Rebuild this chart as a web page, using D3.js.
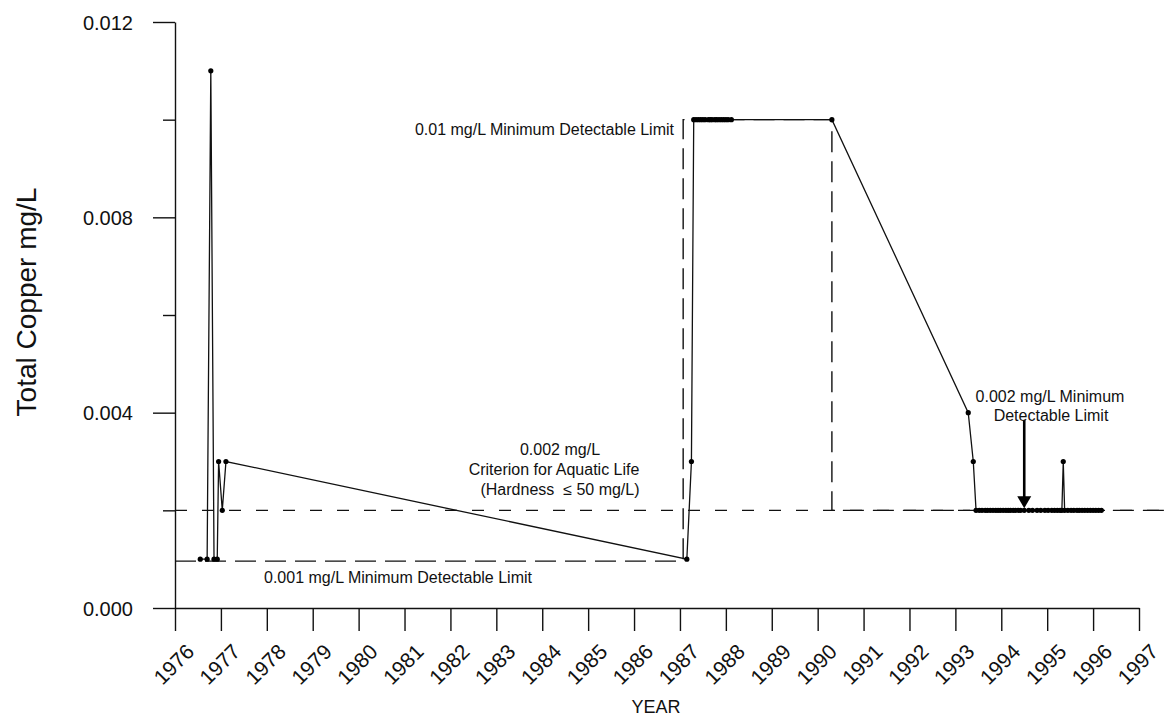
<!DOCTYPE html>
<html>
<head>
<meta charset="utf-8">
<script src="https://cdn.jsdelivr.net/npm/d3@7"></script>
<style>
  body { margin: 0; background: #fff; }
  svg text { font-family: "Liberation Sans", Arial, sans-serif; fill: #111; }
</style>
</head>
<body>
<svg id="chart" width="1171" height="721"></svg>
<script>
// sample dates (decimal year) and total copper, mg/L
const sampleYears = [
  1976.55, 1976.70, 1976.78, 1976.85, 1976.92, 1976.95, 1977.03, 1977.11,
  1987.15, 1987.25, 1987.30, 1987.35, 1987.40, 1987.45, 1987.50, 1987.55,
  1987.62, 1987.66, 1987.70, 1987.76, 1987.80, 1987.85, 1987.90, 1987.95,
  1988.00, 1988.05, 1988.12, 1990.31, 1993.28, 1993.39, 1993.45, 1993.52,
  1993.58, 1993.65, 1993.70, 1993.76, 1993.82, 1993.88, 1993.93, 1993.98,
  1994.04, 1994.10, 1994.15, 1994.20, 1994.26, 1994.31, 1994.37, 1994.42,
  1994.50, 1994.60, 1994.68, 1994.78, 1994.86, 1994.95, 1995.02, 1995.10,
  1995.16, 1995.22, 1995.28, 1995.32, 1995.35, 1995.38, 1995.45, 1995.52,
  1995.58, 1995.65, 1995.70, 1995.76, 1995.82, 1995.88, 1995.94, 1996.00,
  1996.06, 1996.12, 1996.18
];
const copperValues = [
  0.001, 0.001, 0.011, 0.001, 0.001, 0.003, 0.002, 0.003,
  0.001, 0.003, 0.010, 0.010, 0.010, 0.010, 0.010, 0.010,
  0.010, 0.010, 0.010, 0.010, 0.010, 0.010, 0.010, 0.010,
  0.010, 0.010, 0.010, 0.010, 0.004, 0.003, 0.002, 0.002,
  0.002, 0.002, 0.002, 0.002, 0.002, 0.002, 0.002, 0.002,
  0.002, 0.002, 0.002, 0.002, 0.002, 0.002, 0.002, 0.002,
  0.002, 0.002, 0.002, 0.002, 0.002, 0.002, 0.002, 0.002,
  0.002, 0.002, 0.002, 0.002, 0.003, 0.002, 0.002, 0.002,
  0.002, 0.002, 0.002, 0.002, 0.002, 0.002, 0.002, 0.002,
  0.002, 0.002, 0.002
];

const yearTicks = d3.range(1976, 1998);
const majorTicks = [0, 0.004, 0.008, 0.012];
const minorTicks = [0.002, 0.006, 0.010];

// detection limit box (long dashes) and the aquatic life criterion (short dashes)
const mdlYears = [1976, 1987.07, 1987.07, 1990.31, 1990.31, 1997.7];
const mdlValues = [0.00096, 0.00096, 0.010, 0.010, 0.002, 0.002];
const criterionYears = [1976, 1997.7];
const criterionValues = [0.002, 0.002];

const svg = d3.select("#chart");
const x = d3.scaleLinear().domain([1976, 1997]).range([175, 1139]);
const y = d3.scaleLinear().domain([0, 0.012]).range([608, 22]);

// axes
const xAxis = svg.append("g")
  .attr("transform", `translate(0,${y(0)})`)
  .call(d3.axisBottom(x).tickValues(yearTicks).tickSize(23).tickSizeOuter(0).tickFormat(d3.format("d")));
xAxis.selectAll("text")
  .attr("font-size", 21)
  .attr("text-anchor", "end")
  .attr("x", 0).attr("y", 0).attr("dy", 0)
  .attr("transform", "translate(20,45) rotate(-45)");

const yAxis = svg.append("g")
  .attr("transform", `translate(${x(1976)},0)`)
  .call(d3.axisLeft(y).tickValues(majorTicks).tickSize(22).tickSizeOuter(0).tickFormat(d3.format(".3f")));
yAxis.selectAll("text").attr("font-size", 20).attr("x", -42).attr("dy", "0.36em");

svg.append("g")
  .attr("transform", `translate(${x(1976)},0)`)
  .call(d3.axisLeft(y).tickValues(minorTicks).tickSize(12).tickSizeOuter(0).tickFormat(""))
  .select(".domain").remove();

svg.selectAll(".tick line, .domain").attr("stroke", "#111").attr("stroke-width", 1.4);

// reference lines
const refLine = d3.line().x(d => x(d[0])).y(d => y(d[1]));
svg.append("path")
  .attr("d", refLine(d3.zip(criterionYears, criterionValues)))
  .attr("fill", "none").attr("stroke", "#111").attr("stroke-width", 1.4)
  .attr("stroke-dasharray", "12,15");
svg.append("path")
  .attr("d", refLine(d3.zip(mdlYears, mdlValues)))
  .attr("fill", "none").attr("stroke", "#111").attr("stroke-width", 1.4)
  .attr("stroke-dasharray", "21,9");

// data series
const samples = d3.zip(sampleYears, copperValues);
svg.append("path")
  .attr("d", refLine(samples))
  .attr("fill", "none").attr("stroke", "#111").attr("stroke-width", 1.3);
svg.append("g").selectAll("circle")
  .data(samples)
  .join("circle")
  .attr("cx", d => x(d[0])).attr("cy", d => y(d[1]))
  .attr("r", 2.6).attr("fill", "#000");

// arrow to the 0.002 limit
const arrowX = x(1994.5);
svg.append("line")
  .attr("x1", arrowX).attr("x2", arrowX)
  .attr("y1", y(0.00385)).attr("y2", y(0.002) - 12)
  .attr("stroke", "#000").attr("stroke-width", 2.6);
svg.append("path")
  .attr("d", `M${arrowX - 7},${y(0.002) - 14} L${arrowX + 7},${y(0.002) - 14} L${arrowX},${y(0.002) - 2} Z`)
  .attr("fill", "#000");

// annotations
const notes = [
  { t: "0.01 mg/L Minimum Detectable Limit", x: 674, y: 135, a: "end" },
  { t: "0.002 mg/L", x: 560, y: 455, a: "middle" },
  { t: "Criterion for Aquatic Life", x: 554, y: 475, a: "middle" },
  { t: "(Hardness  \u2264 50 mg/L)", x: 560, y: 495, a: "middle" },
  { t: "0.001 mg/L Minimum Detectable Limit", x: 264, y: 583, a: "start" },
  { t: "0.002 mg/L Minimum", x: 1050, y: 402, a: "middle" },
  { t: "Detectable Limit", x: 1051, y: 421, a: "middle" }
];
svg.append("g").selectAll("text")
  .data(notes)
  .join("text")
  .attr("x", d => d.x).attr("y", d => d.y)
  .attr("text-anchor", d => d.a)
  .attr("font-size", 16)
  .style("white-space", "pre")
  .text(d => d.t);

// axis titles
svg.append("text")
  .attr("transform", "translate(36,302) rotate(-90)")
  .attr("text-anchor", "middle")
  .attr("font-size", 28)
  .text("Total Copper mg/L");
svg.append("text")
  .attr("x", 656).attr("y", 713)
  .attr("text-anchor", "middle")
  .attr("font-size", 18)
  .text("YEAR");
</script>
</body>
</html>
